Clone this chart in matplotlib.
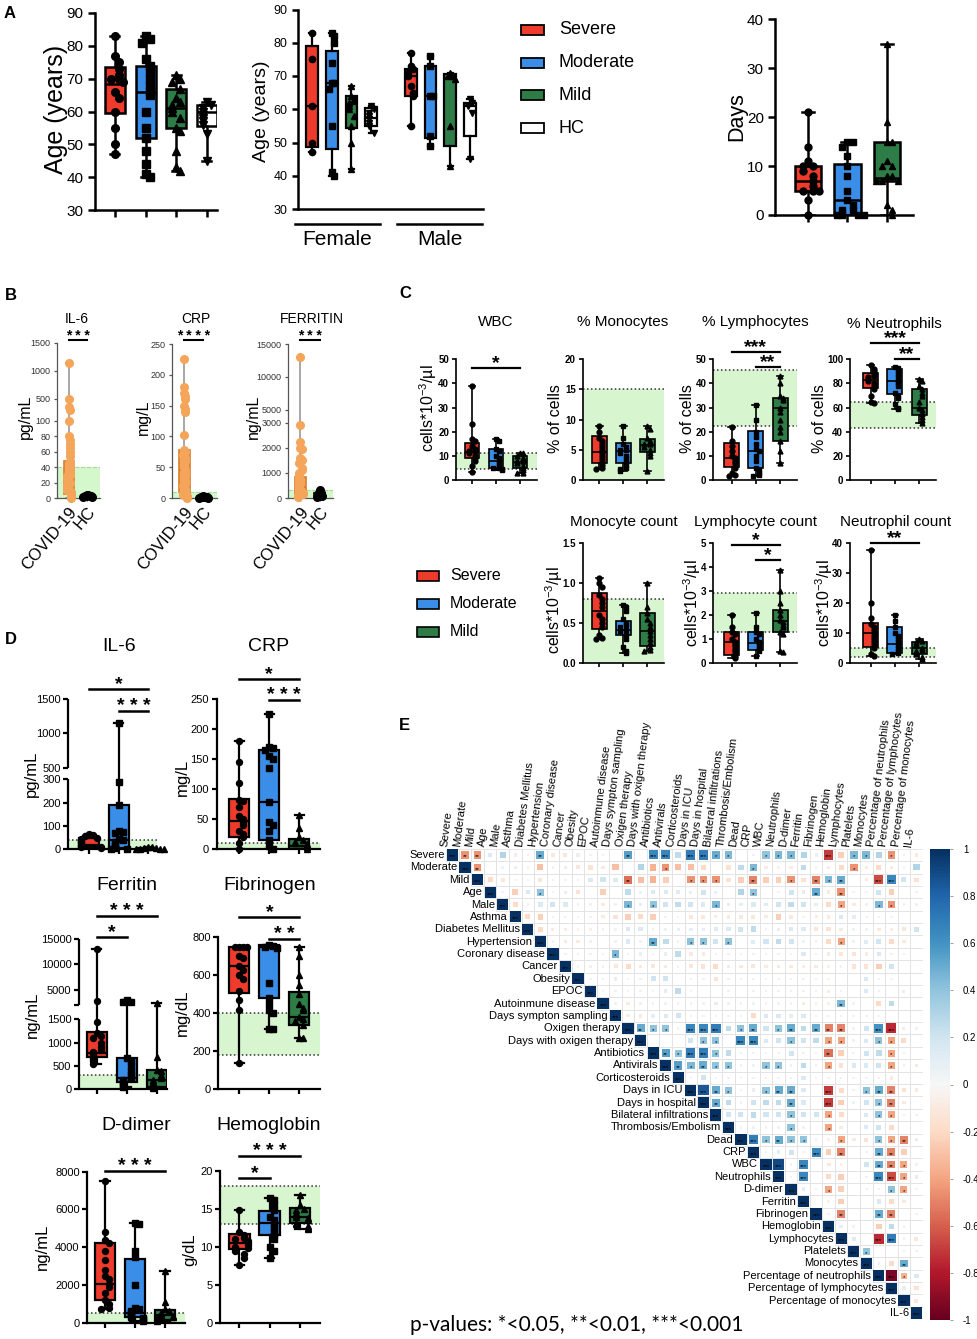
import numpy as np
import matplotlib
matplotlib.use('Agg')
import matplotlib.pyplot as plt
from matplotlib.patches import Rectangle
from matplotlib.colors import Normalize
from matplotlib import cm
from matplotlib.transforms import blended_transform_factory

plt.rcParams['font.family'] = ['Liberation Sans', 'DejaVu Sans']
plt.rcParams['mathtext.fontset'] = 'custom'
plt.rcParams['mathtext.rm'] = 'Liberation Sans'
plt.rcParams['mathtext.it'] = 'Liberation Sans:italic'
plt.rcParams['mathtext.bf'] = 'Liberation Sans:bold'

# ---------------- data ----------------
groups = ['Severe', 'Moderate', 'Mild', 'HC']
SEV, MOD, MILD, HCC = '#ef3b2c', '#3a8ee8', '#2e7d46', 'white'
COLS4 = [SEV, MOD, MILD, HCC]
MARK4 = ['o', 's', '^', 'v']
COLS3, MARK3 = COLS4[:3], MARK4[:3]

# A: age, age by sex, days  (box = [min, q1, median, q3, max])
age_stats = [[47, 59.5, 68.5, 73.5, 83], [40, 52, 66, 74, 83], [42, 55, 61, 67, 71], [45, 55.5, 60, 62, 63]]
age_pts = [[83, 77, 75, 73, 71, 70, 70, 69, 66, 64, 60, 55, 50, 47],
           [83, 82, 81, 76, 74, 72, 70, 68, 66, 65, 60, 55, 52, 48, 44, 41, 40],
           [71, 70, 69, 67, 64, 63, 62, 61, 60, 58, 55, 54, 48, 43, 42],
           [63, 62, 61, 60, 59, 58, 57, 56, 53, 45]]
fem_stats = [[47, 48.5, 61, 79, 83], [40, 48, 68, 77.5, 83], [42, 54.5, 61.5, 64, 67], [53, 55, 57.5, 60.5, 61]]
fem_pts = [[83, 75, 61, 50, 47], [83, 82, 80, 74, 68, 68, 66, 55, 41, 40],
           [67, 64, 63, 62, 61, 60, 58, 55, 50, 42], [61, 60, 59, 58, 57, 56, 55, 53]]
male_stats = [[55, 64, 70, 72, 77], [49, 51.5, 64, 73, 76], [43, 49, 69.5, 70.5, 71], [45, 52, 61, 62, 63]]
male_pts = [[77, 73, 72, 71, 70, 67, 65, 64, 55], [76, 73, 64, 64, 52, 49],
            [71, 70, 70, 69, 55, 43], [63, 62, 61, 59, 45]]
days_stats = [[0, 5, 7, 10, 21], [0, 0, 3, 10.5, 15], [0, 7, 7.5, 15, 35]]
days_pts = [[21, 14, 11, 10, 10, 9, 8, 7, 6, 5, 5, 5, 3, 0],
            [15, 15, 14, 12, 10, 8, 5, 3, 2, 1, 1, 0, 0, 0, 0],
            [35, 19, 15, 15, 11, 10, 10, 8, 8, 7, 7, 7, 2, 1, 0]]

# B: COVID-19 vs HC
b_groups = ['COVID-19', 'HC']
b_il6_stats = [[0, 5, 15, 48, 1150], [1, 1.5, 2.2, 3.2, 4]]
b_il6_pts = [[1150, 500, 350, 300, 100, 80, 75, 70, 65, 60, 55, 48, 45, 40, 35, 30, 28, 25, 20, 18, 15, 12, 10, 8, 5, 3, 2, 0],
             [4, 3.5, 3, 2.5, 2, 2, 1.5, 1]]
b_crp_stats = [[0, 10, 45, 78, 225], [0, 0.5, 1, 2, 3]]
b_crp_pts = [[225, 180, 170, 165, 160, 150, 145, 140, 102, 78, 75, 70, 65, 60, 50, 45, 40, 35, 28, 25, 20, 15, 10, 8, 5, 3, 0],
             [3, 2, 2, 1.5, 1, 1, 0.5, 0]]
b_fer_stats = [[50, 150, 450, 850, 13000], [50, 60, 100, 200, 320]]
b_fer_pts = [[13000, 2900, 2250, 2000, 1950, 1600, 1500, 1400, 1200, 1100, 1000, 900, 800, 700, 600, 500, 400, 300, 250, 200, 150, 100, 50],
             [320, 200, 150, 100, 80, 50]]

# C: blood counts
wbc_stats = [[3.5, 9, 11.5, 15.5, 39], [4, 5, 8, 13, 17], [3, 5, 7.5, 10, 11]]
wbc_pts = [[39, 23, 17, 16, 14, 13, 12, 12, 11, 10, 9, 8, 6, 3.5], [17, 16, 13, 12, 10, 9, 8, 7, 6, 5, 5, 4.5, 4],
           [11, 11, 10, 9, 8, 8, 7, 6, 5, 4, 3, 3]]
pmono_stats = [[1.8, 2.8, 4.6, 7.3, 9], [1.5, 2.8, 4.8, 6.2, 9], [1.5, 4.7, 5.8, 6.8, 9]]
pmono_pts = [[9, 8, 7, 6.5, 6, 5.5, 5, 4.5, 4, 3.5, 3, 2.5, 2, 1.8], [9, 7, 6, 5.5, 5, 5, 4.5, 4, 3.5, 3, 2.5, 2, 1.8, 1.5],
             [9, 8.5, 7, 6.5, 6, 6, 5.5, 5, 4.5, 4, 1.5]]
plym_stats = [[1.5, 5.5, 9, 15.5, 22], [1.5, 5, 12, 20.5, 31], [7, 16, 30, 34, 43]]
plym_pts = [[22, 16, 14, 12, 10, 9, 8, 7, 6, 5, 3, 2, 1.5], [31, 25, 20, 18, 15, 13, 12, 10, 8, 5, 4, 3, 2, 1.5],
            [43, 40, 35, 34, 33, 30, 28, 25, 22, 20, 16, 12, 7]]
pneu_stats = [[64, 76, 83, 89, 95], [59, 71, 82, 92, 94], [47, 54, 60, 75.5, 84]]
pneu_pts = [[95, 92, 90, 88, 86, 85, 84, 82, 80, 78, 75, 70, 65, 64], [94, 93, 90, 88, 85, 82, 80, 78, 72, 70, 68, 63, 60, 59],
            [84, 82, 78, 75, 72, 70, 65, 60, 58, 55, 52, 50, 47]]
mono_stats = [[0.3, 0.43, 0.65, 0.87, 1.06], [0.13, 0.35, 0.42, 0.53, 0.73], [0.15, 0.22, 0.4, 0.63, 1.0]]
mono_pts = [[1.06, 1.0, 0.95, 0.85, 0.8, 0.75, 0.7, 0.6, 0.55, 0.5, 0.45, 0.35, 0.32, 0.3],
            [0.73, 0.7, 0.65, 0.55, 0.5, 0.48, 0.45, 0.42, 0.4, 0.35, 0.3, 0.2, 0.15, 0.13],
            [1.0, 0.7, 0.62, 0.55, 0.5, 0.45, 0.4, 0.35, 0.3, 0.25, 0.2, 0.16, 0.15]]
lym_stats = [[0.2, 0.35, 0.9, 1.3, 2.0], [0.3, 0.55, 0.85, 1.3, 2.07], [0.45, 1.3, 1.75, 2.2, 3.85]]
lym_pts = [[2.0, 1.5, 1.3, 1.2, 1.0, 0.9, 0.8, 0.7, 0.6, 0.5, 0.4, 0.3, 0.2],
           [2.07, 1.5, 1.3, 1.2, 1.0, 0.9, 0.8, 0.7, 0.6, 0.5, 0.3],
           [3.85, 3.0, 2.5, 2.2, 2.0, 1.8, 1.7, 1.6, 1.5, 1.3, 1.2, 0.5, 0.45]]
neu_stats = [[2.5, 5.5, 10, 13.5, 37.5], [3, 3.5, 6.5, 12, 16], [1.5, 3, 5, 7, 8]]
neu_pts = [[37.5, 20, 15, 13, 12, 11, 10, 9, 8, 7, 6, 5, 3, 2.5], [16, 14, 12, 10, 9, 8, 7, 6, 5, 4, 3.5, 3],
           [8, 7.5, 7, 6.5, 6, 5, 4.5, 4, 3.5, 3, 2, 1.5]]

# D: biochemistry
il6_stats = [[5, 10, 20, 50, 65], [0, 5, 40, 190, 1150], [0, 0.5, 2, 5, 10]]
il6_pts = [[65, 60, 55, 50, 45, 40, 35, 30, 25, 20, 15, 10, 8, 5], [1150, 290, 190, 80, 75, 70, 45, 40, 30, 20, 10, 5, 2, 0],
           [10, 8, 5, 4, 3, 2, 1, 0.5]]
crp_stats = [[0, 20, 47, 83, 180], [0, 15, 78, 165, 225], [0, 0, 5, 17, 57]]
crp_pts = [[180, 145, 110, 82, 80, 70, 55, 50, 45, 40, 30, 25, 20, 10, 0],
           [225, 170, 168, 165, 155, 150, 135, 78, 45, 40, 30, 15, 5, 0], [57, 35, 20, 15, 12, 10, 8, 5, 3, 0]]
fer_stats = [[550, 700, 780, 1220, 13000], [50, 150, 250, 680, 3000], [20, 50, 200, 420, 2500]]
fer_pts = [[13000, 2800, 1450, 1200, 1150, 1100, 1000, 900, 850, 800, 750, 700, 650, 600, 550],
           [3000, 2700, 2600, 680, 600, 500, 400, 300, 250, 200, 150, 100, 50],
           [2500, 700, 420, 400, 300, 250, 200, 150, 100, 50, 20]]
fib_stats = [[140, 505, 650, 750, 750], [320, 480, 750, 760, 760], [270, 340, 380, 510, 750]]
fib_pts = [[750, 750, 750, 750, 700, 690, 650, 630, 600, 580, 520, 470, 420, 140],
           [760, 755, 750, 745, 560, 480, 450, 420, 400, 320, 320],
           [750, 700, 600, 550, 500, 450, 430, 420, 380, 370, 360, 340, 270, 270]]
ddim_stats = [[750, 1200, 2050, 4200, 7500], [100, 300, 500, 3400, 5300], [100, 150, 400, 650, 2750]]
ddim_pts = [[7500, 4800, 4400, 4200, 3800, 3300, 2800, 2500, 2300, 2050, 1900, 1600, 1200, 1000, 800, 750],
            [5300, 5250, 3800, 3500, 2000, 800, 700, 600, 500, 400, 300, 250, 200, 100],
            [2750, 1100, 700, 600, 500, 400, 350, 300, 250, 200, 100]]
hb_stats = [[7.6, 9.7, 10.5, 11.7, 14.8], [8.5, 11.5, 13.2, 14.7, 16.4], [12.3, 13.1, 14, 15.1, 16.8]]
hb_pts = [[14.8, 12, 11.5, 11.2, 11, 10.8, 10.5, 10.3, 10, 9.8, 9.5, 9, 8.5, 7.6],
          [16.4, 16.2, 15.5, 14.8, 14, 13.5, 13, 12.5, 12, 11.5, 11, 10, 9.5, 8.5],
          [16.8, 15.5, 15, 14.8, 14.5, 14.2, 14, 13.8, 13.5, 13.2, 13, 12.8, 12.5, 12.3]]

# E: correlation matrix (upper triangle, r*100, '*' = significance)
corr_vars = ['Severe', 'Moderate', 'Mild', 'Age', 'Male', 'Asthma', 'Diabetes Mellitus', 'Hypertension',
             'Coronary disease', 'Cancer', 'Obesity', 'EPOC', 'Autoinmune disease', 'Days sympton sampling',
             'Oxigen therapy', 'Days with oxigen therapy', 'Antibiotics', 'Antivirals', 'Corticosteroids',
             'Days in ICU', 'Days in hospital', 'Bilateral infiltrations', 'Thrombosis/Embolism', 'Dead', 'CRP',
             'WBC', 'Neutrophils', 'D-dimer', 'Ferritin', 'Fibrinogen', 'Hemoglobin', 'Lymphocytes', 'Platelets',
             'Monocytes', 'Percentage of neutrophils', 'Percentage of lymphocytes', 'Percentage of monocytes', 'IL-6']
corr_rows = [
    "-45** -45** 15 30 -8 -5 50** -12 -12 8 5 -5 0 55** 0 65*** 65*** 25 70*** 70*** 50* 45* 0 5 40* 45* 45* 30 8 -70*** -25 45* 45* 30 -45* 5 -10",
    "-45** 0 5 8 5 -30 -5 -8 -12 -15 -10 -30 0 30 -35 -45* -30 -30 -20 0 -15 25 45* -8 -5 -8 25 5 -8 -20 -45* -8 -20 -10 -5 30",
    "-20 -12 -5 -5 -12 -5 -5 5 15 20 15 -55** -30 -35 -25 0 -45* -45* -45* -15 -25 -50** -25 -25 -45* -15 -50** 45* 50** 0 -8 -65*** 65*** 20 -15",
    "5 -25 15 40* 5 -8 -15 0 -25 0 25 8 15 15 12 8 20 8 0 30 40* 0 5 20 10 50** -10 -45** 5 5 20 -25 0 5",
    "-20 5 15 20 15 5 5 -10 5 45* 10 40* 20 25 20 15 45* 10 10 15 12 20 25 20 10 -20 -40* -10 5 45* -45* 5 5",
    "-20 -25 -5 -5 -5 -5 -8 -15 -25 -20 -25 -5 -5 -12 -12 -8 -10 -10 -12 -8 -25 -12 -5 -8 -10 15 10 5 5 -5 0 0",
    "-20 -8 -8 -5 -5 5 -5 15 15 5 5 8 10 10 12 15 20 25 5 10 15 15 -12 -15 -10 5 5 -10 -8 -12 20",
    "5 -10 -10 5 0 5 15 5 50** 25 5 40* 40* 20 40* 0 12 20 25 20 5 5 -20 -40* 5 12 20 -20 -10 0",
    "5 5 5 5 45* 5 8 5 10 25 -10 -8 5 5 5 -5 5 -5 5 15 5 -10 -12 -15 -8 15 -5 5 0",
    "5 5 5 -12 -20 -10 -12 -10 -5 -12 -15 -20 -8 -10 -12 -8 -10 -10 -8 -10 -5 5 -15 -15 -25 20 0 0",
    "5 5 10 5 5 20 20 0 5 -5 -15 5 5 5 5 5 5 5 -5 -5 0 0 15 5 -5 0 0",
    "5 5 5 5 5 10 25 5 0 0 5 0 5 5 5 5 5 5 -8 -5 0 15 5 0 -8 0",
    "5 -8 5 -5 -5 5 -5 5 10 5 5 5 -5 5 -5 -10 5 -5 45** 5 0 -20 25 0 0",
    "-8 -10 10 15 20 5 5 5 -5 5 -20 15 15 10 15 5 5 5 -5 5 5 0 0 0",
    "50** 40* 40* 5 65*** 65*** 70*** 25 40* 50** 20 40* 50** 25 50** -50** -50** 5 20 60*** -75*** -8 -5",
    "0 0 0 20 40* 40* 0 65*** 65*** 15 20 40* 20 25 -40* -40* 5 15 40* -40* -20 0",
    "55** 40* 70*** 70*** 40* 25 5 5 5 5 20 5 5 -55** -25 5 20 25 -40* 5 0",
    "55** 45* 50** 40* 40* 5 5 40* 40* 5 25 5 -40* -15 15 15 20 -40* 5 -10",
    "5 20 5 5 5 5 5 5 5 15 5 5 5 5 5 5 -10 0 0",
    "85*** 50** 40* 5 10 40* 50** 50** 15 0 -70*** -20 5 40* 50** -50** -15 -10",
    "50** 25 5 20 25 25 50** 15 0 -70*** -25 5 20 40* -50** -10 0",
    "20 20 25 20 20 40* 20 20 -40* -20 0 15 40* -40* -5 5",
    "5 5 5 5 40* 5 0 -40* -10 0 15 20 -20 0 0",
    "70*** 40* 50** 40* 40* 5 -5 -40* -10 -15 40* -40* -50** 10",
    "5 12 20 5 65*** -25 -50** 0 5 50** -50** -25 0",
    "90*** 5 65*** 0 -12 -5 0 20 50** -50** -40* 5",
    "5 65*** 0 -20 -25 0 5 65*** -65*** -40* 10",
    "10 5 -40* -25 0 5 5 40* -40* -5",
    "0 -5 -25 0 0 15 -20 -10 0",
    "-5 -50** 0 0 50** -50** 0 5",
    "10 -5 0 -25 25 5 0",
    "12 0 -75*** 70*** 5 -12",
    "40* 0 0 5 5",
    "5 -20 50** 0",
    "-95*** -35* 15",
    "10 -15",
    "-12",
]

# ---------------- helpers ----------------
W, H = 978, 1339
fig = plt.figure(figsize=(W / 100, H / 100), dpi=100)


def add_ax(l, t, r, b):
    return fig.add_axes([l / W, 1 - b / H, (r - l) / W, (b - t) / H])


def ftext(x, y, s, **kw):
    return fig.text(x / W, 1 - y / H, s, **kw)


def piecewise(xs, ys):
    xs = np.asarray(xs, float)
    ys = np.asarray(ys, float)
    s0 = (ys[1] - ys[0]) / (xs[1] - xs[0])
    s1 = (ys[-1] - ys[-2]) / (xs[-1] - xs[-2])
    X = np.r_[xs[0] - 1e7, xs, xs[-1] + 1e7]
    Y = np.r_[ys[0] - 1e7 * s0, ys, ys[-1] + 1e7 * s1]
    return (lambda v: np.interp(v, X, Y)), (lambda v: np.interp(v, Y, X))


def swarm(vals, f, thresh, step):
    tv = f(np.asarray(vals, float))
    out, placed = [], []
    for t in tv:
        n = sum(abs(p - t) < thresh for p in placed)
        k = ((n + 1) // 2) * (1 if n % 2 else -1)
        out.append(k * step)
        placed.append(t)
    return np.array(out)


def style(ax, lw, tl, fs, color='black', pad=3.5, weight='normal'):
    for s in ['top', 'right']:
        ax.spines[s].set_visible(False)
    for s in ['left', 'bottom']:
        ax.spines[s].set_linewidth(lw)
        ax.spines[s].set_color(color)
    ax.tick_params(width=lw, length=tl, labelsize=fs, direction='out', color=color, pad=pad)
    for lab in ax.get_yticklabels():
        lab.set_fontweight(weight)


def draw_boxes(ax, stats, pts, pos, cols, marks, width, lw, ms, ylim, f=None,
               edge='black', whisk='black', ptc='black', step=0.2):
    f = f if f is not None else (lambda v: np.asarray(v, float))
    span = float(f(ylim[1]) - f(ylim[0]))
    for k, (st, pp, x, c, m) in enumerate(zip(stats, pts, pos, cols, marks)):
        lo, q1, med, q3, hi = st
        ec = edge[k] if isinstance(edge, list) else edge
        pc = ptc[k] if isinstance(ptc, list) else ptc
        ax.bxp([dict(whislo=lo, q1=q1, med=med, q3=q3, whishi=hi, fliers=[])],
               positions=[x], widths=width, patch_artist=True, showfliers=False,
               capwidths=width * 0.45, manage_ticks=False,
               boxprops=dict(facecolor=c, edgecolor=ec, linewidth=lw),
               medianprops=dict(color=ec, linewidth=lw),
               whiskerprops=dict(color=whisk, linewidth=lw),
               capprops=dict(color=whisk, linewidth=lw))
        offs = swarm(pp, f, span * 0.035, width * step)
        ax.plot(offs + x, pp, ls='none', marker=m, ms=ms, color=pc, mec=pc,
                clip_on=False, zorder=5)


def ref_band(ax, lo, hi, color='#d7f6cf', dotted=True):
    ax.axhspan(lo, hi, color=color, zorder=0, lw=0)
    if dotted:
        for v in (lo, hi):
            if v > 0:
                ax.axhline(v, color='#333333', ls=(0, (1, 1.6)), lw=1.1, zorder=1)


def sig(ax, x1, x2, ypx, txt, fs, lw, rect):
    t, b = rect[1], rect[3]
    yf = (b - ypx) / (b - t)
    tr = blended_transform_factory(ax.transData, ax.transAxes)
    ax.plot([x1, x2], [yf, yf], color='k', lw=lw, transform=tr, clip_on=False)
    ax.text((x1 + x2) / 2, yf, txt, transform=tr, ha='center', va='baseline',
            fontsize=fs, fontweight='bold')


def panel(rect, ylim, yticks, xlim, stats, pts, width, lw, ms, fs, tl, ref=None,
          scale=None, ytl=None, cols=COLS3, marks=MARK3, pad=3.5, weight='normal'):
    ax = add_ax(*rect)
    if scale:
        ax.set_yscale('function', functions=scale)
    ax.set_ylim(*ylim)
    ax.set_xlim(*xlim)
    ax.set_yticks(yticks)
    ax.set_yticklabels(ytl if ytl else [('%g' % v) for v in yticks])
    n = len(stats)
    ax.set_xticks(range(1, n + 1))
    ax.set_xticklabels([])
    style(ax, lw, tl, fs, pad=pad, weight=weight)
    if ref:
        ref_band(ax, *ref)
    draw_boxes(ax, stats, pts, list(range(1, n + 1)), cols, marks, width, lw, ms, ylim,
               scale[0] if scale else None)
    return ax


# ---------------- panel A ----------------
ftext(10, 14, 'A', fontsize=12, fontweight='bold', ha='center', va='center')

r = (95, 13, 217, 210)
ax = panel(r, (30, 90), range(30, 91, 10), (0.35, 4.33), age_stats, age_pts, 0.65, 1.8, 5.5, 11, 5,
           cols=COLS4, marks=MARK4)
ftext(56, 109, 'Age (years)', rotation=90, ha='center', va='center', fontsize=18)

r = (297.7, 9.5, 483, 209)
ax = add_ax(*r)
ax.set_ylim(30, 90)
ax.set_xlim(0.28, 9.66)
ax.set_yticks(range(30, 91, 10))
ax.set_xticks([])
style(ax, 1.8, 4, 9)
draw_boxes(ax, fem_stats, fem_pts, [1, 2, 3, 4], COLS4, MARK4, 0.6, 1.6, 4.5, (30, 90))
draw_boxes(ax, male_stats, male_pts, [6, 7, 8, 9], COLS4, MARK4, 0.6, 1.6, 4.5, (30, 90))
tr = blended_transform_factory(ax.transData, ax.transAxes)
for (a, b), name in zip([(0.14, 4.44), (5.31, 9.61)], ['Female', 'Male']):
    ax.plot([a, b], [-0.075, -0.075], color='k', lw=1.8, transform=tr, clip_on=False)
    ax.text((a + b) / 2, -0.155, name, transform=tr, ha='center', va='center', fontsize=15)
ftext(262, 111, 'Age (years)', rotation=90, ha='center', va='center', fontsize=14)

# legend A
for k, (g, c) in enumerate(zip(groups, COLS4)):
    y = 30 + 32.7 * k
    fig.add_artist(Rectangle((520.5 / W, 1 - (y + 5) / H), 23.5 / W, 10 / H, facecolor=c,
                             edgecolor='black', lw=1.3, transform=fig.transFigure))
    ftext(559, y, g, fontsize=13, va='center', ha='left')

r = (775, 19.3, 913, 215)
ax = panel(r, (0, 40), range(0, 41, 10), (0.165, 3.66), days_stats, days_pts, 0.68, 1.8, 5, 11, 5, pad=3)
ftext(737, 117, 'Days', rotation=90, ha='center', va='center', fontsize=15.5)

# ---------------- panel B ----------------
ftext(11, 296, 'B', fontsize=12, fontweight='bold', ha='center', va='center')
ORG, ORG_E = '#f5a55a', '#dc7d2c'
b_specs = [
    ((56.7, 343, 100, 498), b_il6_stats, b_il6_pts, [0, 20, 40, 60, 80, 100, 500, 1000, 1500],
     piecewise([0, 100, 1500], [0, 77, 155]), (0, 1500), 40, 'IL-6', 77, 'pg/mL', 25, '* * *'),
    ((171.7, 344, 216.7, 498), b_crp_stats, b_crp_pts, [0, 50, 100, 150, 200, 250],
     None, (0, 250), 10, 'CRP', 196, 'mg/L', 143, '* * * *'),
    ((288, 344, 333, 498), b_fer_stats, b_fer_pts, [0, 1000, 2000, 3000, 5000, 10000, 15000],
     piecewise([0, 3000, 15000], [0, 75.3, 154]), (0, 15000), 300, 'FERRITIN', 312, 'ng/mL', 253, '* * *'),
]
for rect, st, pp, yt, sc, yl, refhi, title, tx, ylab, lx, stars in b_specs:
    ax = add_ax(*rect)
    if sc:
        ax.set_yscale('function', functions=sc)
    ax.set_ylim(*yl)
    ax.set_xlim(0.35, 2.7)
    ax.set_yticks(yt)
    ax.set_yticklabels(['%g' % v for v in yt])
    ax.set_xticks([1, 2])
    style(ax, 0.9, 2.5, 6.5, color='#555555', pad=2)
    ax.set_xticklabels(b_groups, rotation=50, ha='right', rotation_mode='anchor')
    ax.tick_params(axis='x', labelsize=12, pad=2)
    ax.tick_params(axis='y', labelcolor='#333333')
    ax.axhspan(0, refhi, color='#d5f7cc', zorder=0, lw=0)
    ax.axhline(refhi, color='#9fdc95', ls='--', lw=0.8, zorder=1)
    draw_boxes(ax, st, pp, [1, 2], [ORG, 'black'], ['o', 'o'], 0.56, 1.2, 5.5, yl,
               sc[0] if sc else None, edge=[ORG_E, 'black'], whisk='#999999',
               ptc=[ORG, 'black'], step=0.12)
    sig(ax, 1, 2, 340, stars, 10, 1.5, rect)
    ftext(tx, 319, title, fontsize=10, ha='center', va='center')
    ftext(lx, 417, ylab, rotation=90, fontsize=11.5, ha='center', va='center')

# ---------------- panel C ----------------
ftext(405, 293, 'C', fontsize=12, fontweight='bold', ha='center', va='center')
CELLS = 'cells*10$^{-3}$/µl'
c_specs = [
    ((456, 359.3, 537, 480), (0, 50), range(0, 51, 10), (0.33, 3.71), wbc_stats, wbc_pts, (4.5, 11), None,
     'WBC', 496, 322, CELLS, 428, 408, [(1, 3, 368, '*')]),
    ((582.7, 359.3, 664, 480), (0, 20), range(0, 21, 5), (0.31, 3.7), pmono_stats, pmono_pts, (0, 15), None,
     '% Monocytes', 623, 322, '% of cells', 556, 419, []),
    ((713.3, 359.3, 796.7, 480), (0, 50), range(0, 51, 10), (0.24, 3.69), plym_stats, plym_pts, (22.5, 45.5), None,
     '% Lymphocytes', 755.3, 322, '% of cells', 687, 419, [(1, 3, 351.7, '***'), (2, 3, 366.7, '**')]),
    ((850, 359.3, 936, 480), (0, 100), range(0, 101, 20), (0.15, 3.69), pneu_stats, pneu_pts, (43, 65), None,
     '% Neutrophils', 894, 324, '% of cells', 820, 419, [(1, 3, 343.3, '***'), (2, 3, 359.3, '**')]),
    ((583.3, 542.7, 664, 663.3), (0, 1.5), [0, 0.5, 1.0, 1.5], (0.33, 3.7), mono_stats, mono_pts, (0, 0.8),
     ['0.0', '0.5', '1.0', '1.5'], 'Monocyte count', 623.7, 521.7, CELLS, 554, 610, []),
    ((713.3, 542.7, 796.7, 663.3), (0, 5), range(0, 6), (0.24, 3.69), lym_stats, lym_pts, (1.3, 2.9), None,
     'Lymphocyte count', 756, 521.7, CELLS, 692, 603, [(1, 3, 545, '*'), (2, 3, 560, '*')]),
    ((850, 542.7, 936, 663.3), (0, 40), range(0, 41, 10), (0.15, 3.69), neu_stats, neu_pts, (2, 5), None,
     'Neutrophil count', 895.8, 521.7, CELLS, 824, 603, [(1, 3, 543.3, '**')]),
]
for rect, yl, yt, xl, st, pp, ref, ytl, title, tx, ty, ylab, lx, ly, sigs in c_specs:
    ax = panel(rect, yl, list(yt), xl, st, pp, 0.62, 1.2, 3.5, 7, 3, ref=ref, ytl=ytl, pad=2, weight='bold')
    ftext(tx, ty, title, fontsize=11, ha='center', va='center')
    ftext(lx, ly, ylab, rotation=90, fontsize=11.5, ha='center', va='center')
    for x1, x2, y, s in sigs:
        sig(ax, x1, x2, y, s, 14, 1.6, rect)

# legend C
for k, (g, c) in enumerate(zip(groups[:3], COLS3)):
    y = 576 + 28 * k
    fig.add_artist(Rectangle((417 / W, 1 - (y + 5) / H), 22 / W, 10 / H, facecolor=c,
                             edgecolor='black', lw=1.2, transform=fig.transFigure))
    ftext(450, y, g, fontsize=11.5, va='center', ha='left')

# ---------------- panel D ----------------
ftext(11, 639, 'D', fontsize=12, fontweight='bold', ha='center', va='center')
il6_sc = piecewise([0, 300, 500, 1500], [0, 70, 81.6, 150.3])
fer_sc = piecewise([0, 1500, 2000, 15000], [0, 70, 84.1, 150.3])
d_specs = [
    ((68.3, 699, 157, 849.3), (0, 1500), [0, 100, 200, 300, 500, 1000, 1500], (0.29, 3.3), il6_stats, il6_pts,
     (0, 40), il6_sc, None, 'IL-6', 119, 646.7, 'pg/mL', 31, 774, [(1, 3, 689.3, '*'), (2, 3, 710.7, '* * *')],
     [(0, 300), (500, 1500)]),
    ((216.7, 699, 320, 849.3), (0, 250), range(0, 251, 50), (0.25, 3.69), crp_stats, crp_pts,
     (0, 10), None, None, 'CRP', 269, 646.7, 'mg/L', 182, 777, [(1, 3, 679.3, '*'), (2, 3, 700, '* * *')], None),
    ((79, 939, 167, 1089.3), (0, 15000), [0, 500, 1000, 1500, 2000, 5000, 10000, 15000], (0.41, 3.34),
     fer_stats, fer_pts, (0, 300), fer_sc, ['0', '500', '1000', '1500', '', '5000', '10000', '15000'],
     'Ferritin', 127, 885, 'ng/mL', 32, 1015, [(1, 3, 916, '* * *'), (1, 2, 937.3, '*')],
     [(0, 1500), (2000, 15000)]),
    ((218.3, 937.3, 320, 1089.3), (0, 800), range(0, 801, 200), (0.30, 3.69), fib_stats, fib_pts,
     (180, 400), None, None, 'Fibrinogen', 270, 885, 'mg/dL', 182, 1013, [(1, 3, 917.3, '*'), (2, 3, 939.3, '* *')],
     None),
    ((87.3, 1171.7, 185, 1322.7), (0, 8000), range(0, 8001, 2000), (0.41, 3.67), ddim_stats, ddim_pts,
     (0, 500), None, None, 'D-dimer', 136, 1125, 'ng/mL', 42, 1247, [(1, 3, 1170.7, '* * *')], None),
    ((220, 1171, 320, 1322.7), (0, 20), range(0, 21, 5), (0.36, 3.66), hb_stats, hb_pts,
     (13, 18), None, None, 'Hemoglobin', 269, 1125, 'g/dL', 190, 1250, [(1, 3, 1156, '* * *'), (1, 2, 1178.3, '*')],
     None),
]
for rect, yl, yt, xl, st, pp, ref, sc, ytl, title, tx, ty, ylab, lx, ly, sigs, segs in d_specs:
    ax = panel(rect, yl, list(yt), xl, st, pp, 0.68, 1.6, 4.3, 8, 3.5, ref=ref, scale=sc, ytl=ytl, pad=2)
    if segs:
        ax.spines['left'].set_visible(False)
        ytr = ax.get_yaxis_transform()
        for a, b in segs:
            ax.plot([0, 0], [a, b], color='k', lw=1.6, transform=ytr, clip_on=False, solid_capstyle='butt')
    ftext(tx, ty, title, fontsize=14, ha='center', va='center')
    ftext(lx, ly, ylab, rotation=90, fontsize=12, ha='center', va='center')
    for x1, x2, y, s in sigs:
        sig(ax, x1, x2, y, s, 14, 1.8, rect)

# ---------------- panel E ----------------
ftext(404, 726, 'E', fontsize=12, fontweight='bold', ha='center', va='center')
n = len(corr_vars)
C = np.eye(n)
S = np.zeros((n, n), int)
for i in range(n):
    S[i, i] = 3
for i, row in enumerate(corr_rows):
    toks = row.split()
    assert len(toks) == n - 1 - i, (i, len(toks))
    for k, t in enumerate(toks):
        C[i, i + 1 + k] = float(t.rstrip('*')) / 100
        S[i, i + 1 + k] = t.count('*')

axm = add_ax(446.3, 848.8, 922.7, 1319.2)
axm.set_xlim(-0.5, n - 0.5)
axm.set_ylim(n - 0.5, -0.5)
axm.axis('off')
cmap = plt.get_cmap('RdBu')
norm = Normalize(-1, 1)
for i in range(n):
    for j in range(i, n):
        axm.add_patch(Rectangle((j - 0.5, i - 0.5), 1, 1, fill=False, ec='#e3e3e3', lw=0.6))
        rv = C[i, j]
        if rv == 0:
            continue
        s = np.sqrt(abs(rv)) * 0.9
        axm.add_patch(Rectangle((j - s / 2, i - s / 2), s, s, fc=cmap(norm(rv)), ec='none'))
        if S[i, j]:
            axm.text(j, i + 0.28, '*' * S[i, j], ha='center', va='baseline', fontsize=4.4, color='black')
for i, name in enumerate(corr_vars):
    axm.text(i - 0.62, i, name, ha='right', va='center', fontsize=8)
    axm.text(i - 0.25, -0.65, name, rotation=83, ha='left', va='bottom', rotation_mode='anchor', fontsize=8)

cax = add_ax(930, 849, 950.4, 1320)
cb = fig.colorbar(cm.ScalarMappable(norm=norm, cmap=cmap), cax=cax, ticks=np.linspace(-1, 1, 11))
cb.outline.set_visible(False)
cb.ax.tick_params(labelsize=7, length=2, width=0.5, color='#777777', pad=7)
cb.ax.set_yticklabels(['%g' % round(v, 1) for v in np.linspace(-1, 1, 11)])

fig.text(410 / W, 1 - 1325 / H, 'p-values: *<0.05, **<0.01, ***<0.001', fontsize=15,
         family=['Lato', 'DejaVu Sans'], ha='left', va='center')

fig.savefig('out.png', dpi=100)
